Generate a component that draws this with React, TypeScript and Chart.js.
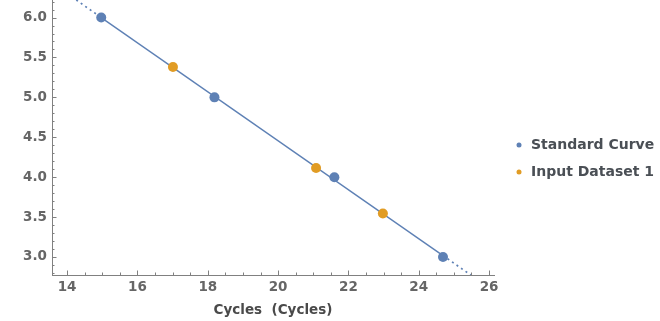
import React, { useEffect, useRef } from "react";
import { Chart, registerables } from "chart.js";

Chart.register(...registerables);

// ---- data ----
const standardCycles = [14.97, 18.19, 21.6, 24.69];
const standardLog = [6.0, 5.0, 4.0, 3.0];
const inputCycles = [17.01, 21.08, 22.98];
const inputLog = [5.38, 4.115, 3.545];
// fitted line: solid part and dotted extrapolations
const fitSolidX = [14.97, 24.69];
const fitSolidY = [6.0, 3.017];
const fitUpperX = [14.26, 14.97];
const fitUpperY = [6.22, 6.0];
const fitLowerX = [24.69, 25.48];
const fitLowerY = [3.017, 2.774];
const xMajorTicks = [14, 16, 18, 20, 22, 24, 26];
const yMajorTicks = [3.0, 3.5, 4.0, 4.5, 5.0, 5.5, 6.0];
const legendLabels = ["Standard Curve", "Input Dataset 1"];
const xTitle = "Cycles  (Cycles)";

const BLUE = "#5E81B5";
const ORANGE = "#E19C24";
const AXIS = "#808080";
const FONT = "'DejaVu Sans', sans-serif";

const toPts = (xs: number[], ys: number[]) => xs.map((x, i) => ({ x, y: ys[i] }));

const ticksPlugin = {
  id: "insideTicks",
  afterDraw(chart: any) {
    const ctx = chart.ctx;
    const xs = chart.scales.x;
    const ys = chart.scales.y;
    const area = chart.chartArea;
    ctx.save();
    ctx.strokeStyle = AXIS;
    ctx.lineWidth = 1;
    // x ticks
    for (let v = 13.5; v <= 26.2; v += 0.5) {
      const px = Math.round(xs.getPixelForValue(v)) + 0.5;
      if (px < area.left || px > area.right) continue;
      const major = Math.abs(v / 2 - Math.round(v / 2)) < 1e-6;
      const len = major ? 4.5 : 2.5;
      ctx.beginPath();
      ctx.moveTo(px, area.bottom);
      ctx.lineTo(px, area.bottom - len);
      ctx.stroke();
    }
    // y ticks
    for (let k = 28; k <= 62; k++) {
      const v = k / 10;
      const py = Math.round(ys.getPixelForValue(v)) + 0.5;
      if (py < area.top || py > area.bottom) continue;
      const major = k % 5 === 0;
      const len = major ? 4.5 : 2.5;
      ctx.beginPath();
      ctx.moveTo(area.left, py);
      ctx.lineTo(area.left + len, py);
      ctx.stroke();
    }
    // legend
    const colors = [BLUE, ORANGE];
    const lx = area.right + 25;
    const ly0 = 145;
    legendLabels.forEach((lab, i) => {
      const y = ly0 + i * 27;
      ctx.fillStyle = colors[i];
      ctx.beginPath();
      ctx.arc(lx, y, 2.5, 0, Math.PI * 2);
      ctx.fill();
      ctx.fillStyle = "#4a4f55";
      ctx.font = `bold 14px ${FONT}`;
      ctx.textBaseline = "middle";
      ctx.textAlign = "left";
      ctx.fillText(lab, lx + 12, y);
    });
    ctx.restore();
  },
};

export default function App() {
  const ref = useRef<HTMLCanvasElement>(null);
  useEffect(() => {
    document.body.style.margin = "0";
    const chart = new Chart(ref.current!, {
      type: "scatter",
      data: {
        datasets: [
          {
            label: legendLabels[0],
            data: toPts(standardCycles, standardLog),
            backgroundColor: BLUE,
            borderColor: BLUE,
            pointRadius: 5,
            pointBorderWidth: 0,
            order: 0,
          },
          {
            label: legendLabels[1],
            data: toPts(inputCycles, inputLog),
            backgroundColor: ORANGE,
            borderColor: ORANGE,
            pointRadius: 5,
            pointBorderWidth: 0,
            order: 0,
          },
          {
            label: "fit",
            type: "line",
            data: toPts(fitSolidX, fitSolidY),
            borderColor: BLUE,
            borderWidth: 1.4,
            pointRadius: 0,
            order: 2,
          },
          {
            label: "fitUp",
            type: "line",
            data: toPts(fitUpperX, fitUpperY),
            borderColor: BLUE,
            borderWidth: 1.7,
            borderDash: [2, 3.5],
            pointRadius: 0,
            order: 2,
          },
          {
            label: "fitLow",
            type: "line",
            data: toPts(fitLowerX, fitLowerY),
            borderColor: BLUE,
            borderWidth: 1.7,
            borderDash: [2, 3.5],
            pointRadius: 0,
            order: 2,
          },
        ],
      } as any,
      options: {
        animation: false,
        responsive: true,
        maintainAspectRatio: false,
        layout: { autoPadding: false, padding: { left: 0, right: 166, top: 0, bottom: 0 } },
        plugins: { legend: { display: false }, tooltip: { enabled: false } },
        scales: {
          x: {
            type: "linear",
            min: 13.57,
            max: 26.14,
            afterBuildTicks: (s: any) => {
              s.ticks = xMajorTicks.map((v) => ({ value: v }));
            },
            afterFit: (s: any) => {
              s.height = 46;
              s.paddingLeft = 0;
              s.paddingRight = 0;
            },
            grid: { display: false, drawTicks: false },
            border: { display: true, color: AXIS, width: 1 },
            ticks: {
              padding: 4,
              color: "#666666",
              font: { family: FONT, size: 13.5, weight: "bold" },
              callback: (v: any) => String(v),
            },
            title: {
              display: true,
              text: xTitle,
              color: "#4a4a4a",
              font: { family: FONT, size: 13.5, weight: "bold" },
              padding: { top: 0, bottom: 2 },
            },
          },
          y: {
            type: "linear",
            min: 2.774,
            max: 6.22,
            afterBuildTicks: (s: any) => {
              s.ticks = yMajorTicks.map((v) => ({ value: v }));
            },
            afterFit: (s: any) => {
              s.width = 52;
              s.paddingTop = 0;
              s.paddingBottom = 0;
            },
            grid: { display: false, drawTicks: false },
            border: { display: true, color: AXIS, width: 1 },
            ticks: {
              padding: 5,
              color: "#666666",
              font: { family: FONT, size: 13.5, weight: "bold" },
              callback: (v: any) => Number(v).toFixed(1),
            },
          },
        },
      } as any,
      plugins: [ticksPlugin],
    });
    return () => chart.destroy();
  }, []);
  return (
    <div style={{ width: 660, height: 321, position: "relative" }}>
      <canvas ref={ref} />
    </div>
  );
}
